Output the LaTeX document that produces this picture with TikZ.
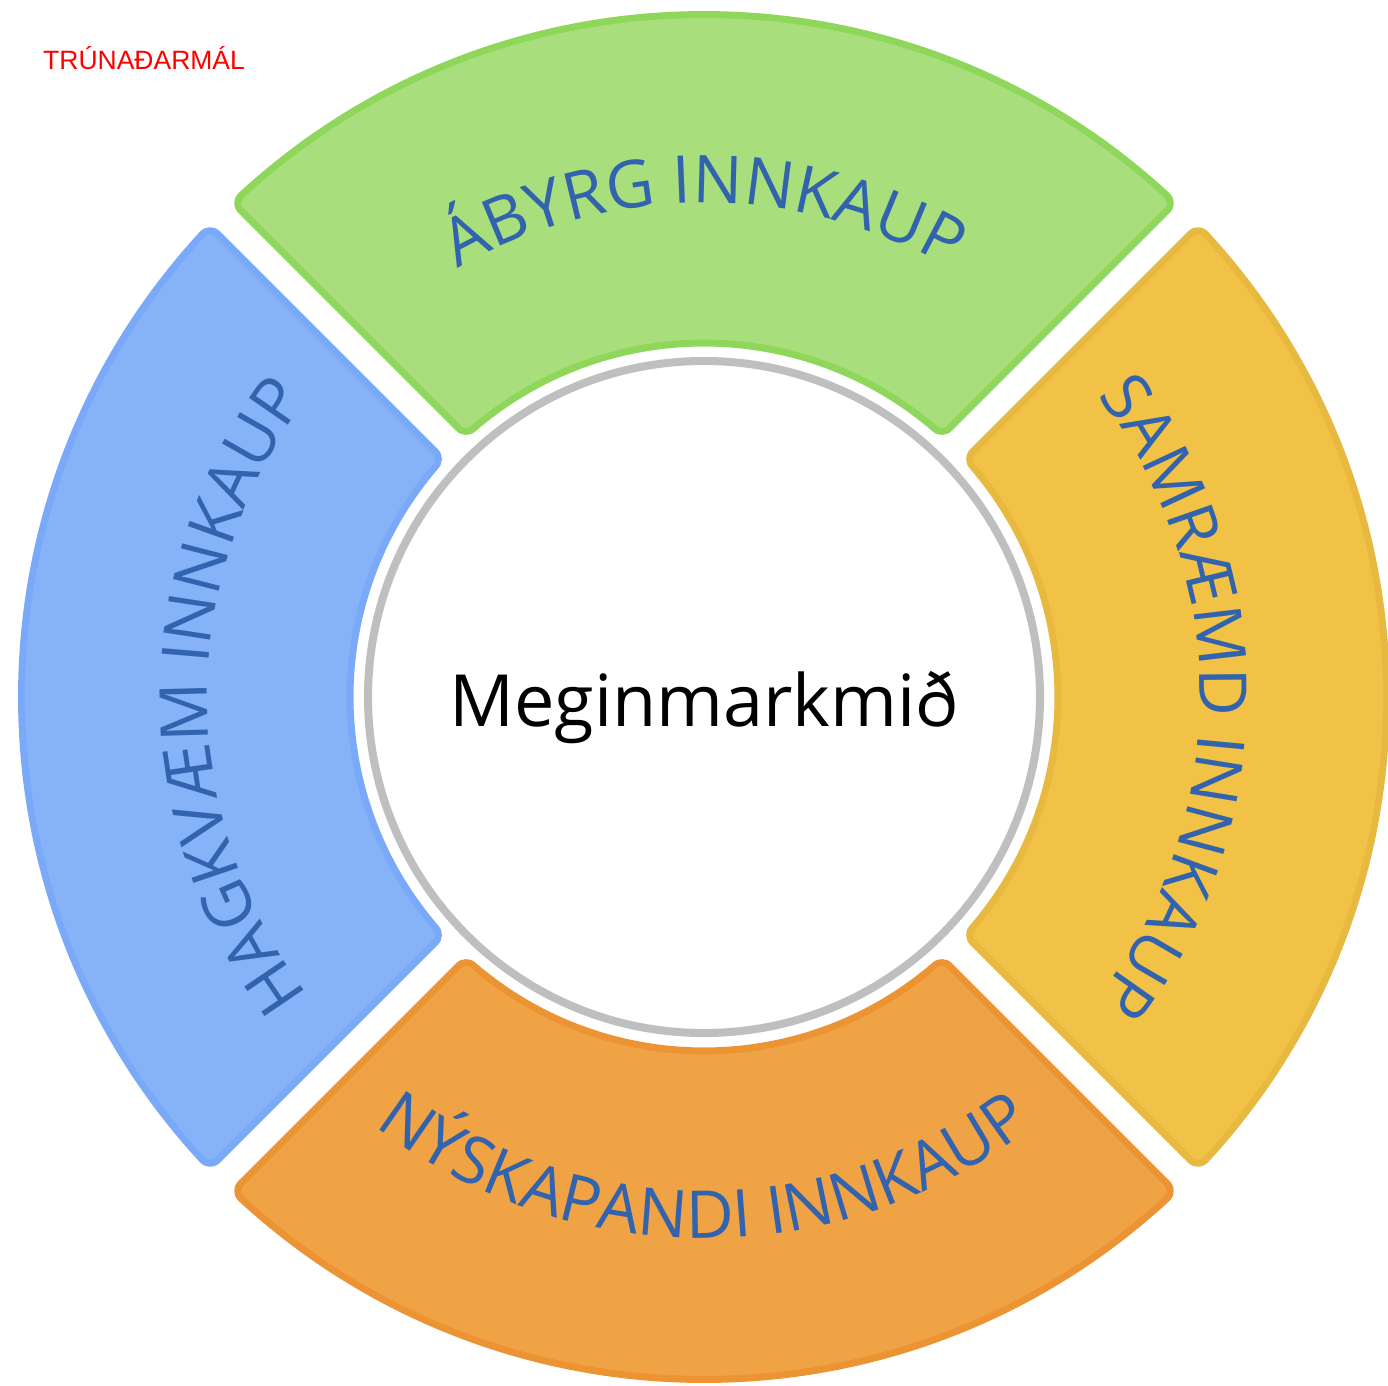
\documentclass[tikz,border=0pt]{standalone}
\usepackage{fontspec}
\usetikzlibrary{decorations.text}
\newfontfamily\opensans{Open Sans}
\newfontfamily\labelsans{Liberation Sans}

\definecolor{greenFill}{HTML}{A8DF7C}
\definecolor{greenEdge}{HTML}{8FD75A}
\definecolor{blueFill}{HTML}{86B3F7}
\definecolor{blueEdge}{HTML}{79A9F8}
\definecolor{yellowFill}{HTML}{F2C247}
\definecolor{yellowEdge}{HTML}{E8B940}
\definecolor{orangeFill}{HTML}{F0A344}
\definecolor{orangeEdge}{HTML}{EC9334}
\definecolor{ringGray}{HTML}{BFBFBF}
\definecolor{segText}{HTML}{3263AE}

\newcommand\segfont{\opensans\fontsize{66}{80}\selectfont}

\tikzset{
  % eroded annular sector centred on angle #1; stroking it with a wide
  % round-joined pen restores the full sector with rounded corners
  segshape/.style={insert path={
    ({#1-45+asin(27/672)}:672)
      arc[start angle={#1-45+asin(27/672)}, end angle={#1+45-asin(27/672)}, radius=672]
    -- ({#1+45-asin(27/364.5)}:364.5)
      arc[start angle={#1+45-asin(27/364.5)}, end angle={#1-45+asin(27/364.5)}, radius=364.5]
    -- cycle}},
  segouter/.style={fill=#1, draw=#1, line width=28, line join=round},
  seginner/.style={fill=#1, draw=#1, line width=14, line join=round},
  arctext/.style={decorate, decoration={text along path, text align=center,
    text color=segText, text={|\segfont|#1}}}
}

\begin{document}
\begin{tikzpicture}[x=1pt, y=1pt]
\useasboundingbox (-704,-688) rectangle (684,697);

% four ring segments: border layer, then fill layer
\path[segouter=greenEdge, segshape=90];
\path[seginner=greenFill, segshape=90];
\path[segouter=yellowEdge, segshape=0];
\path[seginner=yellowFill, segshape=0];
\path[segouter=orangeEdge, segshape=270];
\path[seginner=orangeFill, segshape=270];
\path[segouter=blueEdge, segshape=180];
\path[seginner=blueFill, segshape=180];

% curved segment captions
\path[arctext={ÁBYRG INNKAUP}] (170:494) arc[start angle=170, end angle=10, radius=494];
\path[arctext={SAMRÆMD INNKAUP}] (80:496) arc[start angle=80, end angle=-80, radius=496];
\path[arctext={NÝSKAPANDI INNKAUP}] (190:541) arc[start angle=190, end angle=350, radius=541];
\path[arctext={HAGKVÆM INNKAUP}] (260:496) arc[start angle=260, end angle=100, radius=496];

% central disc
\node[circle, draw=ringGray, fill=white, line width=8, minimum size=672, inner sep=0] (hub) at (0,0) {};
\node[anchor=base, inner sep=0, font=\opensans\fontsize{72}{86}\selectfont] (goal) at (0,-29) {Meginmarkmið};

% classification mark
\node[anchor=base west, inner sep=0, text=red, font=\labelsans\fontsize{26.5}{32}\selectfont] (mark) at (-661,627) {TRÚNAÐARMÁL};
\end{tikzpicture}
\end{document}
